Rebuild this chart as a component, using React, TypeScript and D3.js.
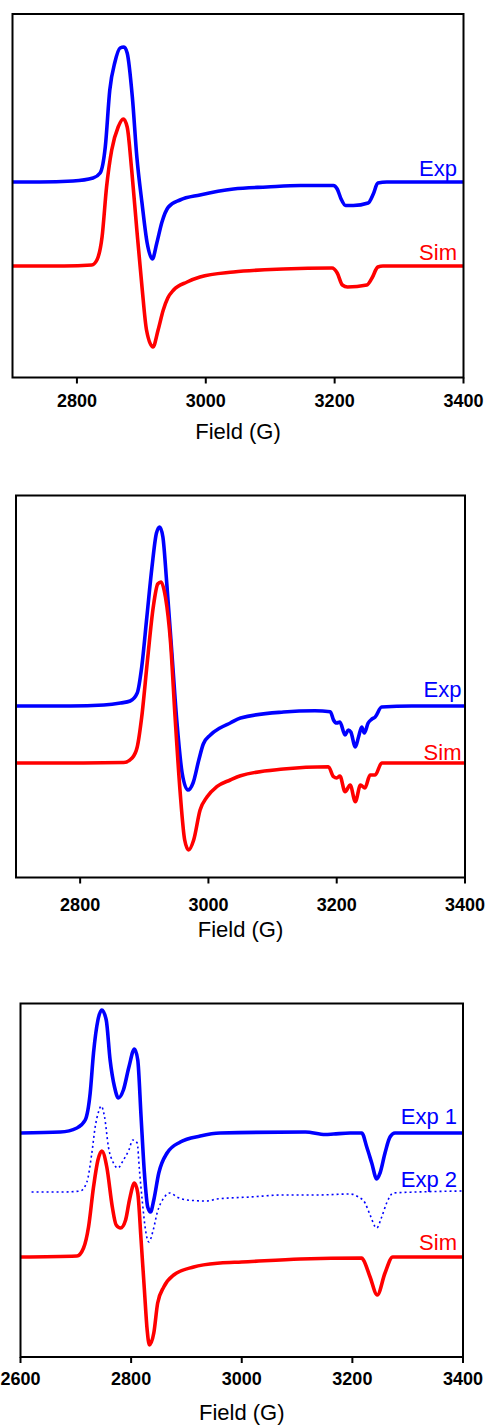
import * as d3 from "d3";

const W = 487;
const H = 1425;
const FONT = "'Liberation Sans', Arial, sans-serif";

// [field (G), intensity (a.u.)]
const exp1A: [number, number][] = [
  [2700, 0], [2742, 0], [2794, 0.01], [2825, 0.04], [2836, 0.09], [2844, 0.35],
  [2851, 0.92], [2859, 1.2], [2867, 1.34], [2873, 1.35], [2878, 1.29], [2886, 0.85],
  [2893, 0.25], [2901, -0.21], [2909, -0.61], [2917, -0.77], [2924, -0.61], [2932, -0.4],
  [2942, -0.25], [2960, -0.18], [2991, -0.13], [3043, -0.07], [3095, -0.05], [3147, -0.035],
  [3198, -0.035], [3204, -0.07], [3210, -0.17], [3217, -0.235], [3229, -0.235], [3252, -0.21],
  [3260, -0.12], [3267, -0.01], [3281, 0], [3400, 0],
];
const simA: [number, number][] = [
  [2700, 0], [2780, 0], [2823, 0.01], [2831, 0.06], [2839, 0.29], [2846, 0.79],
  [2854, 1.16], [2864, 1.39], [2872, 1.47], [2878, 1.39], [2885, 0.96], [2893, 0.36],
  [2901, -0.21], [2908, -0.64], [2918, -0.81], [2926, -0.64], [2934, -0.44], [2941, -0.32],
  [2950, -0.24], [2971, -0.16], [2991, -0.11], [3043, -0.06], [3120, -0.03], [3196, -0.02],
  [3204, -0.07], [3212, -0.19], [3220, -0.21], [3250, -0.19], [3258, -0.12], [3267, -0.01],
  [3275, 0], [3400, 0],
];

const exp1B: [number, number][] = [
  [2700, 0], [2785, 0], [2837, 0.01], [2863, 0.03], [2878, 0.05], [2889, 0.13],
  [2896, 0.39], [2904, 0.89], [2912, 1.39], [2919, 1.73], [2924, 1.79], [2929, 1.69],
  [2935, 1.23], [2943, 0.53], [2951, -0.17], [2959, -0.67], [2968, -0.84], [2976, -0.77],
  [2985, -0.54], [2992, -0.38], [3003, -0.29], [3018, -0.22], [3034, -0.17], [3050, -0.12],
  [3117, -0.06], [3166, -0.047], [3190, -0.057], [3195, -0.14], [3200, -0.17], [3205, -0.16],
  [3213, -0.29], [3218, -0.24], [3222, -0.26], [3229, -0.41], [3234, -0.31], [3239, -0.21],
  [3243, -0.27], [3249, -0.17], [3255, -0.13], [3260, -0.11], [3270, -0.01], [3317, 0],
  [3400, 0],
];
const simB: [number, number][] = [
  [2700, 0], [2785, 0], [2868, 0.005], [2881, 0.05], [2889, 0.16], [2896, 0.46],
  [2905, 1.03], [2914, 1.56], [2921, 1.79], [2926, 1.81], [2933, 1.66], [2941, 1.2],
  [2948, 0.46], [2956, -0.3], [2963, -0.77], [2969, -0.87], [2977, -0.77], [2987, -0.47],
  [2998, -0.337], [3013, -0.237], [3034, -0.17], [3050, -0.127], [3117, -0.06], [3187, -0.037],
  [3195, -0.137], [3200, -0.15], [3205, -0.13], [3213, -0.287], [3221, -0.22], [3229, -0.387],
  [3237, -0.22], [3244, -0.25], [3252, -0.12], [3260, -0.12], [3270, 0], [3400, 0],
];

const exp1C: [number, number][] = [
  [2600, 0], [2672, 0.01], [2702, 0.05], [2717, 0.13], [2726, 0.4], [2732, 0.8],
  [2740, 1.13], [2747, 1.23], [2755, 1.13], [2762, 0.73], [2770, 0.46], [2777, 0.35],
  [2786, 0.43], [2796, 0.66], [2806, 0.84], [2812, 0.73], [2818, 0.16], [2824, -0.4],
  [2830, -0.74], [2835, -0.79], [2841, -0.67], [2850, -0.4], [2865, -0.2], [2889, -0.09],
  [2925, -0.03], [2961, 0], [3115, 0.01], [3151, -0.015], [3166, -0.01], [3196, 0],
  [3217, 0], [3226, -0.14], [3235, -0.3], [3244, -0.46], [3250, -0.4], [3259, -0.2],
  [3268, -0.04], [3277, 0], [3400, 0],
];
const exp2C: [number, number][] = [
  [2620, 0], [2678, 0], [2708, 0.01], [2720, 0.1], [2729, 0.39], [2735, 0.65],
  [2741, 0.8], [2746, 0.86], [2752, 0.75], [2759, 0.45], [2768, 0.29], [2776, 0.24],
  [2786, 0.32], [2796, 0.42], [2803, 0.52], [2811, 0.49], [2815, 0.22], [2820, -0.08],
  [2826, -0.38], [2832, -0.5], [2840, -0.38], [2847, -0.21], [2859, -0.06], [2870, -0.01],
  [2883, -0.05], [2901, -0.08], [2937, -0.09], [2955, -0.07], [3015, -0.05], [3075, -0.03],
  [3136, -0.03], [3196, -0.02], [3211, -0.05], [3223, -0.11], [3232, -0.23], [3244, -0.36],
  [3253, -0.25], [3262, -0.11], [3274, -0.01], [3316, 0], [3400, 0.01],
];
const simC: [number, number][] = [
  [2600, 0], [2702, 0.01], [2714, 0.09], [2723, 0.3], [2732, 0.7], [2740, 0.97],
  [2747, 1.06], [2756, 0.9], [2766, 0.5], [2773, 0.32], [2781, 0.29], [2790, 0.37],
  [2797, 0.57], [2806, 0.74], [2812, 0.64], [2818, 0.17], [2824, -0.33], [2829, -0.73],
  [2833, -0.88], [2841, -0.76], [2848, -0.46], [2859, -0.3], [2877, -0.18], [2913, -0.1],
  [2961, -0.06], [3000, -0.05], [3106, -0.02], [3217, -0.01], [3220, -0.03], [3232, -0.2],
  [3245, -0.38], [3259, -0.16], [3273, 0], [3400, 0],
];

const ticksAB = [2800, 3000, 3200, 3400];
const ticksC = [2600, 2800, 3000, 3200, 3400];

type Trace = {
  data: [number, number][];
  label: string;
  color: string;
  offset: number;
  labelDy: number;
  dashed?: boolean;
};

type PanelSpec = {
  left: number;
  right: number;
  top: number;
  bottom: number;
  xDomain: [number, number];
  yMax: number;
  ticks: number[];
  labelRight: number;
  tickBaseline: number;
  titleBaseline: number;
  traces: Trace[];
};

const panels: PanelSpec[] = [
  {
    left: 12.5, right: 463.5, top: 14, bottom: 377.5,
    xDomain: [2700, 3400], yMax: 3.635, ticks: ticksAB,
    labelRight: 457, tickBaseline: 407, titleBaseline: 439,
    traces: [
      { data: exp1A, label: "Exp", color: "#0000ff", offset: 1.955, labelDy: -6 },
      { data: simA, label: "Sim", color: "#ff0000", offset: 1.115, labelDy: -6 },
    ],
  },
  {
    left: 16, right: 465, top: 495.5, bottom: 877.5,
    xDomain: [2700, 3400], yMax: 3.82, ticks: ticksAB,
    labelRight: 461.5, tickBaseline: 911, titleBaseline: 937,
    traces: [
      { data: exp1B, label: "Exp", color: "#0000ff", offset: 1.715, labelDy: -9 },
      { data: simB, label: "Sim", color: "#ff0000", offset: 1.145, labelDy: -3 },
    ],
  },
  {
    left: 20.5, right: 463, top: 1003.5, bottom: 1357,
    xDomain: [2600, 3400], yMax: 3.535, ticks: ticksC,
    labelRight: 457, tickBaseline: 1385, titleBaseline: 1420,
    traces: [
      { data: exp1C, label: "Exp 1", color: "#0000ff", offset: 2.24, labelDy: -9 },
      { data: exp2C, label: "Exp 2", color: "#0000ff", offset: 1.65, labelDy: -5, dashed: true },
      { data: simC, label: "Sim", color: "#ff0000", offset: 1.0, labelDy: -7 },
    ],
  },
];

function Panel({ p, idx }: { p: PanelSpec; idx: number }) {
  const x = d3.scaleLinear().domain(p.xDomain).range([p.left, p.right]);
  const y = d3.scaleLinear().domain([0, p.yMax]).range([p.bottom, p.top]);
  const clipId = `clip-${idx}`;
  return (
    <g>
      <defs>
        <clipPath id={clipId}>
          <rect x={p.left} y={p.top} width={p.right - p.left} height={p.bottom - p.top} />
        </clipPath>
      </defs>
      <g clipPath={`url(#${clipId})`}>
        {p.traces.map((t) => {
          const line = d3
            .line<[number, number]>()
            .x((d) => x(d[0]))
            .y((d) => y(d[1] + t.offset))
            .curve(d3.curveMonotoneX);
          return (
            <path
              key={t.label}
              d={line(t.data) || ""}
              fill="none"
              stroke={t.color}
              strokeWidth={t.dashed ? 1.6 : 3.6}
              strokeDasharray={t.dashed ? "2 3" : undefined}
              strokeLinejoin="round"
              strokeLinecap={t.dashed ? "butt" : "round"}
            />
          );
        })}
      </g>
      {p.traces.map((t) => (
        <text
          key={"l" + t.label}
          x={p.labelRight}
          y={y(t.offset) + t.labelDy}
          textAnchor="end"
          fontFamily={FONT}
          fontSize={22}
          fill={t.color}
        >
          {t.label}
        </text>
      ))}
      <rect
        x={p.left}
        y={p.top}
        width={p.right - p.left}
        height={p.bottom - p.top}
        fill="none"
        stroke="#000"
        strokeWidth={2}
      />
      {p.ticks.map((v) => (
        <g key={v}>
          <line x1={x(v)} x2={x(v)} y1={p.bottom} y2={p.bottom + 6} stroke="#000" strokeWidth={2} />
          <text
            x={x(v)}
            y={p.tickBaseline}
            textAnchor="middle"
            fontFamily={FONT}
            fontWeight="bold"
            fontSize={18}
            fill="#000"
          >
            {v}
          </text>
        </g>
      ))}
      <text
        x={(p.left + p.right) / 2}
        y={p.titleBaseline}
        textAnchor="middle"
        fontFamily={FONT}
        fontSize={22}
        fill="#000"
      >
        Field (G)
      </text>
    </g>
  );
}

export default function App() {
  return (
    <svg
      width={W}
      height={H}
      viewBox={`0 0 ${W} ${H}`}
      style={{ position: "absolute", left: 0, top: 0, background: "#fff" }}
    >
      {panels.map((p, i) => (
        <Panel key={i} p={p} idx={i} />
      ))}
    </svg>
  );
}
